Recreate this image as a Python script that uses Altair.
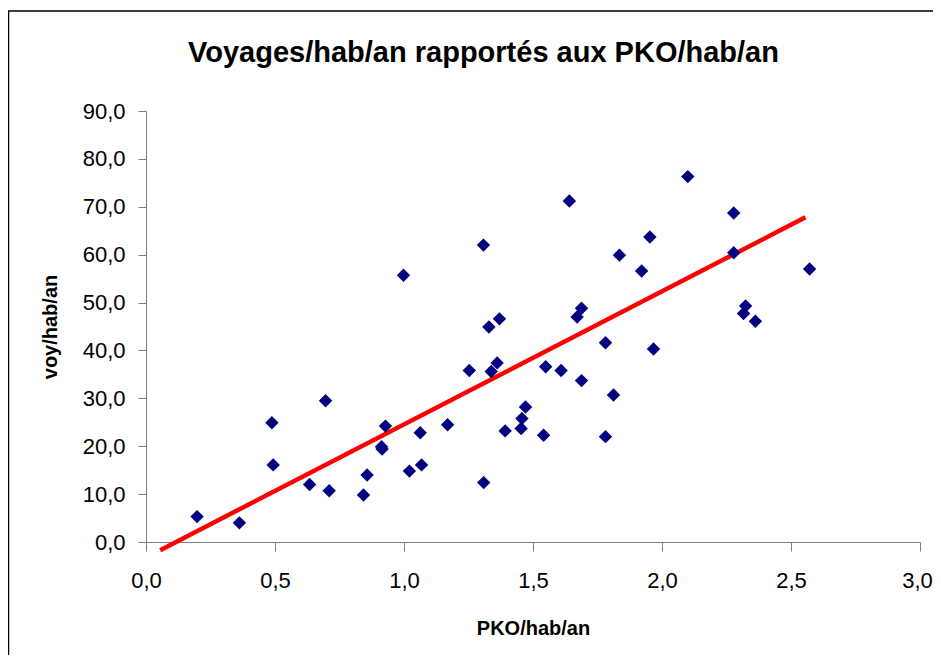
import altair as alt
import pandas as pd

# ---- data ----
pko = [0.198, 0.362, 0.488, 0.493, 0.634, 0.696, 0.710, 0.843, 0.857, 0.913,
       0.915, 0.928, 0.998, 1.021, 1.063, 1.068, 1.169, 1.253, 1.308, 1.309,
       1.329, 1.338, 1.361, 1.370, 1.392, 1.454, 1.457, 1.471, 1.541, 1.549,
       1.609, 1.641, 1.671, 1.688, 1.688, 1.781, 1.781, 1.812, 1.835, 1.921,
       1.953, 1.967, 2.100, 2.278, 2.278, 2.316, 2.324, 2.362, 2.572]
voy = [5.3, 4.0, 24.9, 16.1, 12.0, 29.5, 10.7, 9.8, 14.0, 19.9,
       19.4, 24.2, 55.7, 14.8, 22.8, 16.1, 24.5, 35.8, 62.0, 12.4,
       44.9, 35.6, 37.4, 46.6, 23.2, 23.7, 25.8, 28.2, 22.3, 36.6,
       35.8, 71.2, 47.0, 48.8, 33.7, 41.6, 22.0, 30.7, 59.9, 56.6,
       63.7, 40.3, 76.3, 68.7, 60.4, 47.7, 49.3, 46.1, 57.0]
trend_x = [0.055, 2.556]
trend_y = [-1.7, 67.8]
x_ticks = [0.0, 0.5, 1.0, 1.5, 2.0, 2.5, 3.0]
y_ticks = [0, 10, 20, 30, 40, 50, 60, 70, 80, 90]
title_text = "Voyages/hab/an rapportés aux PKO/hab/an"
x_title = "PKO/hab/an"
y_title = "voy/hab/an"

W, H = 774, 431
FONT = "Liberation Sans"
AXIS_GREY = "#808080"

pts = pd.DataFrame({"pko": pko, "voy": voy})
trend = pd.DataFrame({"pko": trend_x, "voy": trend_y})

lab = "replace(format(datum.value, '.1f'), '.', ',')"

xscale = alt.Scale(domain=[0, 3], nice=False, zero=False)
yscale = alt.Scale(domain=[0, 90], nice=False)

xaxis = alt.Axis(
    values=x_ticks, labelExpr=lab, title=x_title, grid=False,
    domainColor=AXIS_GREY, tickColor=AXIS_GREY, domainWidth=1, tickWidth=1,
    tickSize=9, labelFontSize=22, labelFont=FONT, labelColor="#000000",
    labelPadding=19, labelBaseline="top", labelFlush=False, labelOverlap=False,
    labelOffset={"condition": {"test": "datum.value >= 3", "value": -3}, "value": 0},
    titleFont=FONT, titleFontSize=20, titleFontWeight="bold", titleColor="#000000",
    titleBaseline="alphabetic", titleAlign="center", titleX=W / 2, titleY=92,
)
yaxis = alt.Axis(
    values=y_ticks, labelExpr=lab, title=y_title, grid=False,
    domainColor=AXIS_GREY, tickColor=AXIS_GREY, domainWidth=1, tickWidth=1,
    tickSize=8, labelFontSize=22, labelFont=FONT, labelColor="#000000",
    labelPadding=13, labelBaseline="middle", labelFlush=False, labelOverlap=False,
    titleFont=FONT, titleFontSize=20, titleFontWeight="bold", titleColor="#000000",
    titleAngle=270, titleBaseline="alphabetic", titleAlign="center",
    titleX=-90, titleY=H / 2,
)

points = alt.Chart(pts).mark_point(
    shape="diamond", filled=True, color="#000080", size=180, opacity=1
).encode(
    x=alt.X("pko:Q", scale=xscale, axis=xaxis),
    y=alt.Y("voy:Q", scale=yscale, axis=yaxis),
)

line = alt.Chart(trend).mark_line(
    color="#FF0000", strokeWidth=4.5, strokeCap="butt"
).encode(
    x=alt.X("pko:Q", scale=xscale),
    y=alt.Y("voy:Q", scale=yscale),
)

title = alt.Chart(pd.DataFrame({"t": [title_text]})).mark_text(
    font=FONT, fontSize=29, fontWeight="bold", color="#000000",
    align="center", baseline="alphabetic"
).encode(text="t:N", x=alt.value(337.5), y=alt.value(-49))

frame = alt.Chart(pd.DataFrame({"a": [0]})).mark_rect(
    fill="transparent", stroke="#000000", strokeWidth=1.5
).encode(
    x=alt.value(-137.5), x2=alt.value(820), y=alt.value(-100), y2=alt.value(580)
)

chart = alt.layer(frame, line, points, title).properties(
    width=W, height=H,
    autosize=alt.AutoSizeParams(type="none"),
    padding={"left": 138, "top": 103, "right": 13, "bottom": 113},
    background="white",
).configure_view(strokeWidth=0)

chart.save("out.html", embed_options={"renderer": "svg", "actions": False})
